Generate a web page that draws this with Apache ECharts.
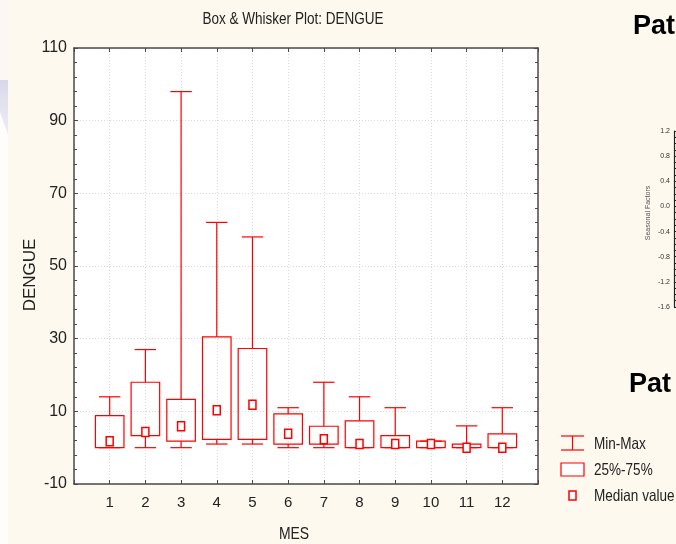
<!DOCTYPE html>
<html>
<head>
<meta charset="utf-8">
<script src="https://cdn.jsdelivr.net/npm/echarts@6/dist/echarts.min.js"></script>
<style>
html,body{margin:0;padding:0;background:#fdf9ee;}
#chart{width:676px;height:544px;}
</style>
</head>
<body>
<div id="chart"></div>
<script>
// ---- data ----
const months     = [1, 2, 3, 4, 5, 6, 7, 8, 9, 10, 11, 12];
const minVals    = [0, 0, 0, 1, 1, 0, 0, 0, 0, 0, 0, 0];
const q1Vals     = [0, 3.3, 1.8, 2.3, 2.3, 1, 1, 0, 0, 0, 0, 0];
const medianVals = [1.8, 4.3, 5.9, 10.3, 11.8, 3.8, 2.3, 1, 1, 1, 0, 0];
const q3Vals     = [8.8, 18, 13.3, 30.5, 27.3, 9.3, 5.9, 7.4, 3.3, 1.8, 1, 3.8];
const maxVals    = [14, 27, 98, 62, 58, 11, 18, 14, 11, 1.8, 6, 11];
const yTicks     = [-10, 10, 30, 50, 70, 90, 110];
const legendLabels = ['Min-Max', '25%-75%', 'Median value'];

const RED = '#ff0000';
const SANS = '"Liberation Sans", Arial, sans-serif';
const NX = 0.82; // horizontal squeeze of the narrow lettering

const boxData = months.map((m, i) => [m, minVals[i], q1Vals[i], medianVals[i], q3Vals[i], maxVals[i]]);

function renderBox(params, api) {
  const x = api.value(0);
  const lo = api.coord([x, api.value(1)]);
  const q1 = api.coord([x, api.value(2)]);
  const md = api.coord([x, api.value(3)]);
  const q3 = api.coord([x, api.value(4)]);
  const hi = api.coord([x, api.value(5)]);
  const boxW = api.size([0.8, 0])[0];
  const capW = api.size([0.6, 0])[0];
  const cx = lo[0];
  const ls = {stroke: RED, lineWidth: 1.2, fill: null};
  return {
    type: 'group',
    children: [
      {type: 'line', shape: {x1: cx, y1: hi[1], x2: cx, y2: q3[1]}, style: ls},
      {type: 'line', shape: {x1: cx, y1: q1[1], x2: cx, y2: lo[1]}, style: ls},
      {type: 'line', shape: {x1: cx - capW / 2, y1: hi[1], x2: cx + capW / 2, y2: hi[1]}, style: ls},
      {type: 'line', shape: {x1: cx - capW / 2, y1: lo[1], x2: cx + capW / 2, y2: lo[1]}, style: ls},
      {type: 'rect', shape: {x: cx - boxW / 2, y: q3[1], width: boxW, height: q1[1] - q3[1]},
        style: {stroke: RED, lineWidth: 1.2, fill: 'rgba(255,255,255,0)'}},
      {type: 'rect', shape: {x: cx - 3.5, y: md[1] - 4.5, width: 7, height: 9},
        style: {stroke: RED, lineWidth: 1.5, fill: '#ffffff'}}
    ]
  };
}

function narrowText(x, y, text, size, align) {
  return {type: 'text', x: x, y: y, scaleX: NX, silent: true,
    style: {text: text, fontFamily: SANS, fontSize: size, fill: '#222',
      textAlign: align || 'left', textVerticalAlign: 'middle'}};
}

const chart = echarts.init(document.getElementById('chart'), null, {renderer: 'canvas'});

const axisLineStyle = {show: true, onZero: false, lineStyle: {color: '#4a4a4a', width: 1.5}};
const tickStyle = {show: true, inside: true, length: 4, lineStyle: {color: '#4a4a4a'}};
const minorStyle = {show: true, splitNumber: 5, length: 3, lineStyle: {color: '#4a4a4a'}};
const gridLineStyle = {show: true, lineStyle: {color: '#d9d9d9', type: [1, 2], width: 1}};

const option = {
  backgroundColor: '#fdf9ee',
  animation: false,
  grid: [
    {left: 74, right: 138, top: 48, bottom: 60, show: true, backgroundColor: '#ffffff', borderWidth: 0},
    {left: 674, width: 40, top: 131, height: 176, show: false}
  ],
  xAxis: [
    {type: 'value', gridIndex: 0, position: 'bottom', min: 0, max: 13, interval: 1,
      axisLine: axisLineStyle, axisTick: tickStyle,
      axisLabel: {fontFamily: SANS, fontSize: 15, color: '#222', margin: 11,
        formatter: v => (months.indexOf(v) >= 0 ? String(v) : '')},
      splitLine: gridLineStyle},
    {type: 'value', gridIndex: 0, position: 'top', min: 0, max: 13, interval: 1,
      axisLine: axisLineStyle, axisTick: tickStyle,
      axisLabel: {show: false}, splitLine: {show: false}},
    {type: 'value', gridIndex: 1, show: false, min: 0, max: 1}
  ],
  yAxis: [
    {type: 'value', gridIndex: 0, position: 'left', min: yTicks[0], max: yTicks[yTicks.length - 1], interval: 20,
      axisLine: axisLineStyle, axisTick: tickStyle, minorTick: minorStyle,
      axisLabel: {fontFamily: SANS, fontSize: 16, color: '#222', margin: 7},
      splitLine: gridLineStyle},
    {type: 'value', gridIndex: 0, position: 'right', min: yTicks[0], max: yTicks[yTicks.length - 1], interval: 20,
      axisLine: axisLineStyle, axisTick: tickStyle, minorTick: minorStyle,
      axisLabel: {show: false}, splitLine: {show: false}},
    {type: 'value', gridIndex: 1, position: 'left', min: -1.6, max: 1.2, interval: 0.4,
      axisLine: {show: true, onZero: false, lineStyle: {color: '#222', width: 1.2}},
      axisTick: {show: true, inside: true, length: 3, lineStyle: {color: '#222'}},
      minorTick: {show: true, splitNumber: 4, length: 2, lineStyle: {color: '#222'}},
      axisLabel: {fontFamily: SANS, fontSize: 7, color: '#333', margin: 4,
        formatter: v => v.toFixed(1)},
      splitLine: {show: false}}
  ],
  graphic: [
    // slide decoration on the left edge
    {type: 'rect', shape: {x: 0, y: 0, width: 8, height: 544}, style: {fill: '#fefdfb'}, silent: true, z: -10},
    {type: 'rect', shape: {x: 0, y: 0, width: 8, height: 80}, style: {fill: '#fcf7f5'}, silent: true, z: -10},
    {type: 'polygon', shape: {points: [[0, 80], [8, 80], [8, 135], [0, 112]]},
      style: {fill: new echarts.graphic.LinearGradient(0, 0, 0, 1, [
        {offset: 0, color: '#d8d8ec'}, {offset: 1, color: 'rgba(222,222,238,0.5)'}])}, silent: true, z: -10},
    // title and axis titles
    narrowText(293, 19, 'Box & Whisker Plot: DENGUE', 16.5, 'center'),
    narrowText(294, 534, 'MES', 17, 'center'),
    {type: 'text', x: 30, y: 275, rotation: Math.PI / 2, silent: true, style: {text: 'DENGUE',
      fontFamily: SANS, fontSize: 17, fill: '#222', textAlign: 'center', textVerticalAlign: 'middle'}},
    // right side slide content
    {type: 'text', x: 633, y: 27, silent: true, style: {text: 'Pat', fontFamily: SANS,
      fontSize: 27, fontWeight: 'bold', fill: '#000', textVerticalAlign: 'middle'}},
    {type: 'text', x: 629, y: 385, silent: true, style: {text: 'Pat', fontFamily: SANS,
      fontSize: 27, fontWeight: 'bold', fill: '#000', textVerticalAlign: 'middle'}},
    {type: 'text', x: 648, y: 213, rotation: Math.PI / 2, silent: true, style: {text: 'Seasonal Factors',
      fontFamily: SANS, fontSize: 7, fill: '#555', textAlign: 'center', textVerticalAlign: 'middle'}},
    // legend
    {type: 'line', shape: {x1: 561, y1: 436, x2: 584, y2: 436}, style: {stroke: RED, lineWidth: 1.2}},
    {type: 'line', shape: {x1: 561, y1: 450, x2: 584, y2: 450}, style: {stroke: RED, lineWidth: 1.2}},
    {type: 'line', shape: {x1: 572.5, y1: 436, x2: 572.5, y2: 450}, style: {stroke: RED, lineWidth: 1.2}},
    {type: 'rect', shape: {x: 561, y: 463, width: 23, height: 13}, style: {stroke: RED, lineWidth: 1.2, fill: '#fff'}},
    {type: 'rect', shape: {x: 569, y: 491, width: 7, height: 9}, style: {stroke: RED, lineWidth: 1.5, fill: '#fff'}},
    narrowText(594, 444, legendLabels[0], 16.5),
    narrowText(594, 470, legendLabels[1], 16.5),
    narrowText(594, 496, legendLabels[2], 16.5)
  ],
  series: [{
    type: 'custom',
    xAxisIndex: 0, yAxisIndex: 0,
    renderItem: renderBox,
    encode: {x: 0, y: [1, 2, 3, 4, 5]},
    data: boxData,
    clip: false,
    z: 5
  }]
};
chart.setOption(option);
</script>
</body>
</html>
